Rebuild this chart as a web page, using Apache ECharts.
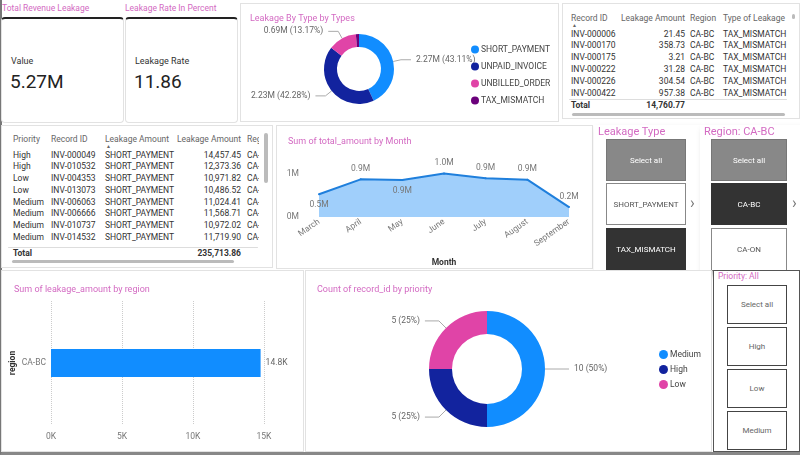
<!DOCTYPE html>
<html>
<head>
<meta charset="utf-8">
<title>Revenue Leakage Dashboard</title>
<script src="https://cdn.jsdelivr.net/npm/echarts@6/dist/echarts.min.js"></script>
<style>
body { margin:0; width:800px; height:455px; position:relative; overflow:hidden; background:#fff; font-family:Roboto, sans-serif; color:#333; }
.panel { position:absolute; box-sizing:border-box; border:1px solid #e2e2e2; background:#fff; overflow:hidden; }
.ttl { position:absolute; color:#d36ac2; font-size:8.5px; white-space:nowrap; }
.cell { position:absolute; white-space:nowrap; font-size:8.5px; line-height:11px; height:11px; }
.btn { position:absolute; box-sizing:border-box; display:flex; align-items:center; justify-content:center; font-size:8px; }
.chart { position:absolute; }
</style>
</head>
<body>
<div class="panel" style="left:0;top:0;width:800px;height:455px;border:none;border-left:2px solid #777;border-bottom:3px solid #888;background:transparent"></div>

<!-- cards -->
<div class="ttl" style="left:2px;top:3px">Total Revenue Leakage</div>
<div class="panel" style="left:1px;top:17px;width:123px;height:106px;border-top:2px solid #222;border-radius:4px">
  <div class="cell" style="left:9px;top:37px;font-size:9px">Value</div>
  <div class="cell" style="left:8px;top:51px;font-size:19px;line-height:24px;height:24px;color:#222">5.27M</div>
</div>
<div class="ttl" style="left:125px;top:3px">Leakage Rate In Percent</div>
<div class="panel" style="left:125px;top:17px;width:113px;height:106px;border-top:2px solid #222;border-radius:4px">
  <div class="cell" style="left:9px;top:37px;font-size:9px">Leakage Rate</div>
  <div class="cell" style="left:8px;top:51px;font-size:19px;line-height:24px;height:24px;color:#222">11.86</div>
</div>

<div class="panel" style="left:240px;top:3px;width:319px;height:119px"><div id="typePie" class="chart" style="left:0;top:0;width:319px;height:119px"></div></div>
<div class="panel" id="topTable" style="left:562px;top:3px;width:238px;height:116px"></div>
<div class="panel" id="leftTable" style="left:1px;top:125px;width:272px;height:143px"></div>
<div class="panel" style="left:276px;top:125px;width:317px;height:144px"><div id="monthLine" class="chart" style="left:0;top:0;width:317px;height:144px"></div></div>
<div id="slicers"></div>
<div class="panel" style="left:1px;top:270px;width:303px;height:182px"><div id="regionBar" class="chart" style="left:0;top:0;width:303px;height:182px"></div></div>
<div class="panel" style="left:305px;top:270px;width:407px;height:182px"><div id="priorityPie" class="chart" style="left:0;top:0;width:407px;height:182px"></div></div>

<script type="text/javascript">
// ---- data ----
var leakTypes = ['SHORT_PAYMENT', 'UNPAID_INVOICE', 'UNBILLED_ORDER', 'TAX_MISMATCH'];
var leakAmountsM = [2.27, 2.23, 0.69, 0.076];
var leakShares = [43.11, 42.28, 13.17, 1.44];

var months = ['March', 'April', 'May', 'June', 'July', 'August', 'September'];
var monthTotals = [530000, 875000, 858000, 1010000, 900000, 868000, 230000];

var regions = ['CA-BC'];
var regionLeakage = [14760.77];

var priorities = ['Medium', 'High', 'Low'];
var priorityCounts = [10, 5, 5];

var taxIds = ['INV-000006', 'INV-000170', 'INV-000175', 'INV-000222', 'INV-000226', 'INV-000422'];
var taxAmounts = ['21.45', '358.73', '3.21', '31.28', '304.54', '957.38'];
var taxTotal = '14,760.77';

var shortPriority = ['High', 'High', 'Low', 'Low', 'Medium', 'Medium', 'Medium', 'Medium'];
var shortIds = ['INV-000049', 'INV-010532', 'INV-004353', 'INV-013073', 'INV-006063', 'INV-006666', 'INV-010737', 'INV-014532'];
var shortAmounts = ['14,457.45', '12,373.36', '10,971.82', '10,486.52', '11,024.41', '11,568.71', '10,972.02', '11,719.90'];
var shortRegions = ['CA-ON', 'CA-ON', 'CA-BC', 'CA-BC', 'CA-BC', 'CA-ON', 'CA-BC', 'CA-BC'];
var shortTotal = '235,713.86';

var typeColors = ['#118DFF', '#12239E', '#E044A7', '#6B007B'];
var pink = '#d36ac2';

// ---- tables ----
function cell(parent, text, x, y, align, extra) {
    var d = document.createElement('div');
    d.className = 'cell';
    d.textContent = text;
    if (align === 'right') { d.style.left = (x - 90) + 'px'; d.style.width = '90px'; d.style.textAlign = 'right'; }
    else d.style.left = x + 'px';
    d.style.top = (y - 5.5) + 'px';
    if (extra) for (var k in extra) d.style[k] = extra[k];
    parent.appendChild(d);
    return d;
}
function bar(parent, l, t, w, h, c) {
    var d = document.createElement('div');
    d.style.cssText = 'position:absolute;left:' + l + 'px;top:' + t + 'px;width:' + w + 'px;height:' + h + 'px;background:' + c + ';border-radius:2px';
    parent.appendChild(d);
}

var tt = document.getElementById('topTable');
var hd = {color: '#666'};
cell(tt, 'Record ID', 8, 14, 'left', hd);
cell(tt, '\u25B2', 9, 21, 'left', {fontSize: '5px', color: '#666'});
cell(tt, 'Leakage Amount', 122, 14, 'right', hd);
cell(tt, 'Region', 127, 14, 'left', hd);
cell(tt, 'Type of Leakage', 160, 14, 'left', hd);
taxIds.forEach(function (id, i) {
    var y = 30 + i * 11.8;
    cell(tt, id, 8, y);
    cell(tt, taxAmounts[i], 122, y, 'right');
    cell(tt, regions[0], 127, y);
    cell(tt, leakTypes[3], 160, y);
});
bar(tt, 6, 95, 218, 1, '#ddd');
cell(tt, 'Total', 8, 101, 'left', {fontWeight: 'bold'});
cell(tt, taxTotal, 122, 101, 'right', {fontWeight: 'bold'});
bar(tt, 9, 109, 213, 3, '#bbb');
bar(tt, 229, 10, 3, 5, '#bbb');

var lt = document.getElementById('leftTable');
var clip = document.createElement('div');
clip.style.cssText = 'position:absolute;left:0;top:0;width:257px;height:143px;overflow:hidden';
lt.appendChild(clip);
cell(clip, 'Priority', 11, 13, 'left', hd);
cell(clip, 'Record ID', 49, 13, 'left', hd);
cell(clip, 'Leakage Amount', 103, 13, 'left', hd);
cell(clip, '\u25B2', 104, 20, 'left', {fontSize: '5px', color: '#666'});
cell(clip, 'Leakage Amount', 239, 13, 'right', hd);
cell(clip, 'Region', 245, 13, 'left', hd);
shortIds.forEach(function (id, i) {
    var y = 29 + i * 11.75;
    cell(clip, shortPriority[i], 11, y);
    cell(clip, id, 49, y);
    cell(clip, leakTypes[0], 103, y);
    cell(clip, shortAmounts[i], 239, y, 'right');
    cell(clip, shortRegions[i], 245, y);
});
bar(clip, 6, 121, 250, 1, '#ddd');
cell(clip, 'Total', 11, 127, 'left', {fontWeight: 'bold'});
cell(clip, shortTotal, 239, 127, 'right', {fontWeight: 'bold'});
bar(lt, 10, 134, 222, 3, '#bbb');
bar(lt, 262, 7, 4, 50, '#bbb');

// ---- slicers ----
var sl = document.getElementById('slicers');
function slicer(l, t, w, h, title, titleSize, bx, bw, items, shadow, border) {
    var p = document.createElement('div');
    p.className = 'panel';
    p.style.cssText += ';left:' + l + 'px;top:' + t + 'px;width:' + w + 'px;height:' + h + 'px;overflow:visible' +
        (shadow ? ';box-shadow:3px 4px 6px rgba(0,0,0,0.25);border:none' : '') + (border ? ';border:1px solid ' + border : '');
    var tl = document.createElement('div');
    tl.className = 'ttl';
    tl.textContent = title;
    tl.style.left = '4px'; tl.style.top = '0px'; tl.style.fontSize = titleSize + 'px';
    p.appendChild(tl);
    items.forEach(function (it) {
        var b = document.createElement('div');
        b.className = 'btn';
        b.textContent = it.text;
        b.style.left = bx + 'px'; b.style.top = it.top + 'px';
        b.style.width = bw + 'px'; b.style.height = it.h + 'px';
        b.style.background = it.bg; b.style.color = it.fg;
        b.style.border = '1px solid ' + it.bd;
        p.appendChild(b);
    });
    sl.appendChild(p);
    return p;
}
var grey = {bg: '#888', fg: '#fff', bd: '#777'};
var dark = {bg: '#333', fg: '#fff', bd: '#333'};
var white = {bg: '#fff', fg: '#555', bd: '#888'};
function it(text, top, h, s) { return {text: text, top: top, h: h, bg: s.bg, fg: s.fg, bd: s.bd}; }
var s1 = slicer(594, 125, 106, 146, 'Leakage Type', 11, 12, 80,
    [it('Select all', 14, 42, grey), it(leakTypes[0], 58, 42, white), it(leakTypes[3], 103, 43, dark)], true);
var s2 = slicer(700, 125, 100, 146, 'Region: CA-BC', 11, 11, 76,
    [it('Select all', 14, 42, grey), it('CA-BC', 58, 42, dark), it('CA-ON', 103, 43, white)], true);
[[s1, 96], [s2, 92]].forEach(function (a) {
    var ar = document.createElement('div');
    ar.className = 'cell';
    ar.textContent = '\u203A';
    ar.style.cssText += ';left:' + a[1] + 'px;top:70px;font-size:16px;line-height:16px;height:16px;color:#777';
    a[0].appendChild(ar);
});
slicer(713, 270, 87, 182, 'Priority: All', 8.5, 13, 60,
    [it('Select all', 14, 39, white), it(priorities[1], 56, 39, white), it(priorities[2], 98, 39, white), it(priorities[0], 140, 39, white)].map(function (b) { b.bd = '#444'; b.fg = '#666'; return b; }),
    false, '#555');

// ---- charts ----
var titleStyle = {color: pink, fontSize: 9, fontWeight: 'normal'};
var fontFam = 'Roboto';

var typePie = echarts.init(document.getElementById('typePie'));
typePie.setOption({
    animation: false,
    textStyle: {fontFamily: fontFam},
    title: {text: 'Leakage By Type by Types', left: 4, top: 5, textStyle: titleStyle},
    color: typeColors,
    legend: {
        orient: 'vertical', left: 225, top: 36, itemGap: 8, itemWidth: 8, itemHeight: 8, icon: 'circle',
        textStyle: {fontSize: 8.5, color: '#444', padding: [0, 0, 0, -3]},
        data: leakTypes
    },
    series: [{
        type: 'pie', center: [118, 65], radius: [22, 35], startAngle: 90, clockwise: true,
        label: {fontSize: 8.5, color: '#666', formatter: function (p) { return leakAmountsM[p.dataIndex].toFixed(2) + 'M (' + leakShares[p.dataIndex].toFixed(2) + '%)'; }},
        labelLine: {length: 8, length2: 10, lineStyle: {color: '#aaa'}},
        data: leakTypes.map(function (t, i) {
            var d = {name: t, value: leakShares[i]};
            if (i === 3) { d.label = {show: false}; d.labelLine = {show: false}; }
            return d;
        })
    }]
});

var labelPos = {March: 'bottom', May: 'bottom'};
var monthLine = echarts.init(document.getElementById('monthLine'));
monthLine.setOption({
    animation: false,
    textStyle: {fontFamily: fontFam},
    title: {text: 'Sum of total_amount by Month', left: 6, top: 6, textStyle: titleStyle},
    grid: {left: 42, right: 25, top: 37.5, height: 53.5, outerBoundsMode: 'none'},
    xAxis: {
        type: 'category', data: months, boundaryGap: false,
        name: 'Month', nameLocation: 'middle', nameGap: 41, nameMoveOverlap: false,
        nameTextStyle: {fontSize: 8.5, fontWeight: 'bold', color: '#333'},
        axisLine: {show: false}, axisTick: {show: false},
        axisLabel: {rotate: 35, fontSize: 8.5, color: '#777', margin: 4}
    },
    yAxis: {
        type: 'value', min: 0, max: 1244000, interval: 1000000,
        axisLabel: {fontSize: 8.5, color: '#777', margin: 20, showMaxLabel: false,
            formatter: function (v) { return (v / 1e6) + 'M'; }},
        splitLine: {show: false}
    },
    series: [{
        type: 'line', symbol: 'circle', symbolSize: 2, showSymbol: true,
        itemStyle: {color: '#1f7fdc'},
        lineStyle: {color: '#1f7fdc', width: 2},
        areaStyle: {color: '#a0cffb', opacity: 1},
        label: {show: true, fontSize: 8.5, color: '#777', distance: 5,
            formatter: function (p) { return (p.value / 1e6).toFixed(1) + 'M'; }},
        data: months.map(function (m, i) {
            var d = {value: monthTotals[i]};
            if (labelPos[m]) d.label = {position: labelPos[m]};
            return d;
        })
    }]
});

var regionBar = echarts.init(document.getElementById('regionBar'));
regionBar.setOption({
    animation: false,
    textStyle: {fontFamily: fontFam},
    title: {text: 'Sum of leakage_amount by region', left: 7, top: 9, textStyle: titleStyle},
    grid: {left: 49, right: 41, top: 30, bottom: 28, outerBoundsMode: 'none'},
    // axis title drawn separately so it sits where the reference has it
    graphic: [{
        type: 'text', x: 11, y: 92, rotation: Math.PI / 2,
        style: {text: 'region', fontSize: 8.5, fontWeight: 'bold', fill: '#333', fontFamily: fontFam, align: 'center', verticalAlign: 'middle'}
    }],
    xAxis: {
        type: 'value', min: 0, max: 15000, interval: 5000,
        axisLabel: {fontSize: 8.5, color: '#777', margin: 7, formatter: function (v) { return (v / 1000) + 'K'; }},
        splitLine: {lineStyle: {type: 'dotted', color: '#ccc'}}
    },
    yAxis: {
        type: 'category', data: regions,
        axisLine: {show: false}, axisTick: {show: false},
        axisLabel: {fontSize: 8.5, color: '#777', margin: 5}
    },
    series: [{
        type: 'bar', data: regionLeakage, barWidth: 28,
        itemStyle: {color: '#118DFF'},
        label: {show: true, position: 'right', fontSize: 8.5, color: '#666', distance: 5,
            formatter: function (p) { return (p.value / 1000).toFixed(1) + 'K'; }}
    }]
});

var priorityPie = echarts.init(document.getElementById('priorityPie'));
priorityPie.setOption({
    animation: false,
    textStyle: {fontFamily: fontFam},
    title: {text: 'Count of record_id by priority', left: 6, top: 9, textStyle: titleStyle},
    color: ['#118DFF', '#12239E', '#E044A7'],
    legend: {
        orient: 'vertical', left: 348, top: 74, itemGap: 6, itemWidth: 9, itemHeight: 9, icon: 'circle',
        textStyle: {fontSize: 8.5, color: '#444', padding: [0, 0, 0, -3]},
        data: priorities
    },
    series: [{
        type: 'pie', center: [181, 98], radius: [35, 58], startAngle: 90, clockwise: true,
        label: {fontSize: 8.5, color: '#666', formatter: '{c} ({d}%)'},
        labelLine: {length: 10, length2: 14, lineStyle: {color: '#aaa'}},
        data: priorities.map(function (p, i) { return {name: p, value: priorityCounts[i]}; })
    }]
});
</script>
</body>
</html>
